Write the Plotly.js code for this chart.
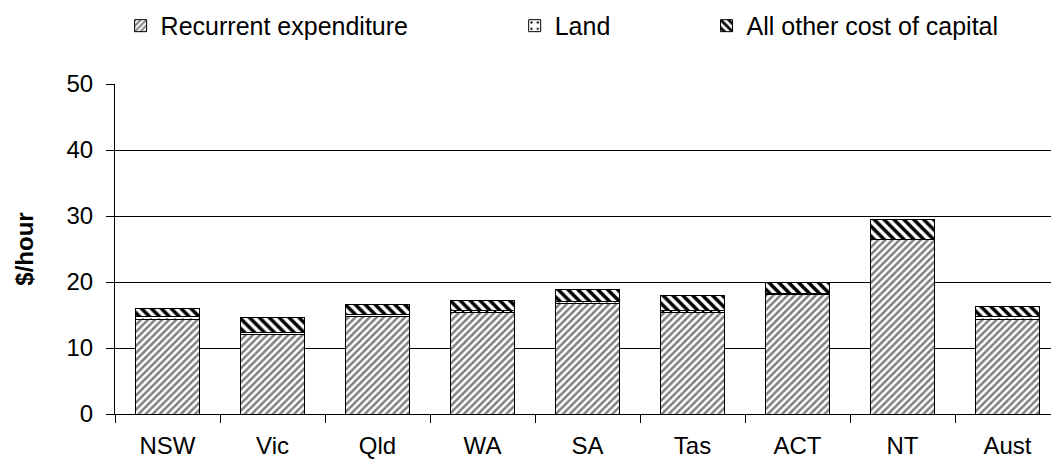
<!DOCTYPE html>
<html>
<head>
<meta charset="utf-8">
<script src="https://cdn.plot.ly/plotly-3.0.1.min.js"></script>
<style>
  html, body { margin: 0; padding: 0; background: #fff; }
  #chart { width: 1051px; height: 461px; }
</style>
</head>
<body>
<div id="chart"></div>
<script>
// valores ($/hour)
const states = ["NSW", "Vic", "Qld", "WA", "SA", "Tas", "ACT", "NT", "Aust"];
const recurrent = [14.3, 12.0, 14.8, 15.45, 16.8, 15.4, 18.1, 26.4, 14.3];
const land = [0.4, 0.35, 0.25, 0.2, 0.2, 0.3, 0.1, 0.1, 0.5];
const otherCapital = [1.35, 2.2, 1.6, 1.6, 1.8, 2.2, 1.7, 2.9, 1.55];

const font = "Liberation Sans, Arial, sans-serif";
const outline = { color: "#000", width: 1 };

var data = [
  {
    x: states, y: recurrent, type: "bar", name: "Recurrent expenditure", legend: "legend",
    marker: {
      color: "#fff", line: outline,
      pattern: { shape: "/", fgcolor: "#808080", bgcolor: "#fff", size: 5, solidity: 0.5 }
    }
  },
  {
    x: states, y: land, type: "bar", name: "Land", legend: "legend2",
    marker: {
      color: "#fff", line: outline,
      pattern: { shape: ".", fgcolor: "#000", bgcolor: "#fff", size: 8, solidity: 0.1 }
    }
  },
  {
    x: states, y: otherCapital, type: "bar", name: "All other cost of capital", legend: "legend3",
    marker: {
      color: "#fff", line: outline,
      pattern: { shape: "\\", fgcolor: "#000", bgcolor: "#fff", size: 7, solidity: 0.5 }
    }
  }
];

// una leyenda por serie para separarlas como en el original
function legendAt(x) {
  return {
    orientation: "h", x: x, y: 1.176, xanchor: "left", yanchor: "middle",
    font: { family: font, size: 25, color: "#000" },
    bgcolor: "rgba(0,0,0,0)", itemwidth: 30
  };
}

var layout = {
  width: 1051, height: 461,
  barmode: "stack",
  bargap: 0.39,
  paper_bgcolor: "#fff", plot_bgcolor: "#fff",
  margin: { l: 115, r: 0, t: 84, b: 47, autoexpand: false },
  font: { family: font, size: 24, color: "#000" },
  showlegend: true,
  legend: legendAt(0.006),
  legend2: legendAt(0.427),
  legend3: legendAt(0.632),
  xaxis: {
    range: [-0.5, 8.414],
    showline: true, linecolor: "#000", linewidth: 1,
    ticks: "outside", tickson: "boundaries", ticklen: 8, tickcolor: "#000",
    ticklabelstandoff: 10,
    tickfont: { size: 24 },
    showgrid: false, zeroline: false, fixedrange: true
  },
  yaxis: {
    range: [0, 50], dtick: 10,
    showline: true, linecolor: "#000", linewidth: 1,
    ticks: "outside", ticklen: 8, tickcolor: "#000",
    ticklabelstandoff: 8,
    tickfont: { size: 24 },
    showgrid: true, gridcolor: "#000", gridwidth: 1,
    zeroline: false,
    title: { text: "<b>$/hour</b>", font: { family: font, size: 24 }, standoff: 26 }
  }
};

Plotly.newPlot("chart", data, layout, { displayModeBar: false, staticPlot: true });
</script>
</body>
</html>
